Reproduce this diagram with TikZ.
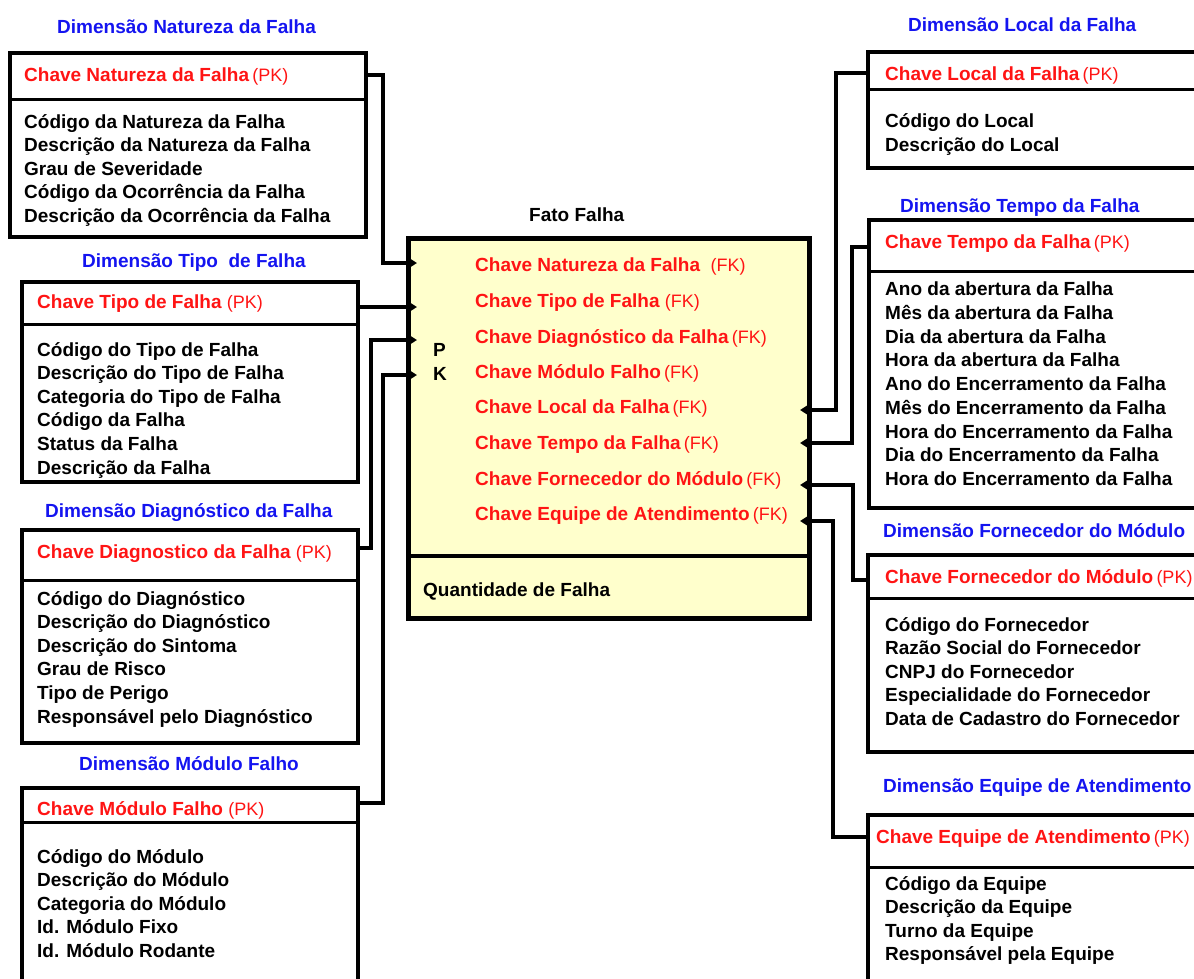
\documentclass[tikz,border=0pt]{standalone}
\usepackage{fontspec}
\setmainfont{Liberation Sans}
\usetikzlibrary{arrows.meta}

\definecolor{keyred}{HTML}{FF1414}
\definecolor{dimblue}{HTML}{1414F0}
\definecolor{factfill}{HTML}{FFFFCC}

% key suffix such as (PK) / (FK), set in the regular weight
\newcommand\keytag[1]{{\mdseries\fontsize{18}{22}\selectfont(#1)}}

% a column of attribute rows: name, x, first baseline, step, items
\newcommand\rowlist[5]{%
  \foreach \rowtext [count=\i] in {#5}
    \node[row] (#1-\i) at (#2, {#3+(\i-1)*#4}) {\rowtext};}

\begin{document}
\begin{tikzpicture}[x=1pt, y=-1pt,
  row/.style={anchor=base west, inner sep=0pt, font=\fontsize{19}{23}\selectfont\bfseries},
  title/.style={row, text=dimblue},
  key/.style={row, text=keyred},
  dim/.style={draw, rectangle, line width=3.3pt, fill=white, inner sep=0pt, outer sep=0pt, anchor=north west},
  fact/.style={dim, line width=5pt, fill=factfill},
  divider/.style={line width=3pt},
  link/.style={line width=3.3pt, line join=miter, -{Triangle[length=10pt,width=12pt]}, shorten >=-9pt}]

\useasboundingbox (0,0) rectangle (1194,978);
\clip (0,0) rectangle (1194,978);

% ---------------- fact table ----------------
\node[fact, minimum width=401pt, minimum height=380pt] (fato) at (408,238) {};
\draw[divider, line width=4pt] (fato.west |- 0,556) -- (fato.east |- 0,556);
\node[row] (fatotitle) at (529,221) {Fato Falha};
\node[row] (pk-p) at (433,356) {P};
\node[row] (pk-k) at (433,380) {K};
\node[key] (fk1) at (475,271) {Chave Natureza da Falha\ \ \keytag{FK}};
\node[key] (fk2) at (475,307) {Chave Tipo de Falha \keytag{FK}};
\node[key] (fk3) at (475,343) {Chave Diagnóstico da Falha\,\keytag{FK}};
\node[key] (fk4) at (475,378) {Chave Módulo Falho\,\keytag{FK}};
\node[key] (fk5) at (475,413) {Chave Local da Falha\,\keytag{FK}};
\node[key] (fk6) at (475,449) {Chave Tempo da Falha\,\keytag{FK}};
\node[key] (fk7) at (475,485) {Chave Fornecedor do Módulo\,\keytag{FK}};
\node[key] (fk8) at (475,520) {Chave Equipe de Atendimento\,\keytag{FK}};
\node[row] (qtd) at (423,596) {Quantidade de Falha};

% ---------------- left dimensions ----------------
% Natureza da Falha
\node[title] (nat-title) at (57,33) {Dimensão Natureza da Falha};
\node[dim, minimum width=356pt, minimum height=184pt] (nat) at (10,53) {};
\draw[divider] (nat.west |- 0,99) -- (nat.east |- 0,99);
\node[key] (nat-key) at (24,81) {Chave Natureza da Falha\,\keytag{PK}};
\rowlist{nat}{24}{128}{23.5}{Código da Natureza da Falha,Descrição da Natureza da Falha,Grau de Severidade,Código da Ocorrência da Falha,Descrição da Ocorrência da Falha}

% Tipo de Falha
\node[title] (tipo-title) at (82,267) {Dimensão Tipo\ \ de Falha};
\node[dim, minimum width=336pt, minimum height=200pt] (tipo) at (22,282) {};
\draw[divider] (tipo.west |- 0,324) -- (tipo.east |- 0,324);
\node[key] (tipo-key) at (37,308) {Chave Tipo de Falha \keytag{PK}};
\rowlist{tipo}{37}{356}{23.6}{Código do Tipo de Falha,Descrição do Tipo de Falha,Categoria do Tipo de Falha,Código da Falha,Status da Falha,Descrição da Falha}

% Diagnóstico da Falha
\node[title] (diag-title) at (45,517) {Dimensão Diagnóstico da Falha};
\node[dim, minimum width=336pt, minimum height=213pt] (diag) at (22,530) {};
\draw[divider] (diag.west |- 0,580) -- (diag.east |- 0,580);
\node[key] (diag-key) at (37,558) {Chave Diagnostico da Falha \keytag{PK}};
\rowlist{diag}{37}{605}{23.6}{Código do Diagnóstico,Descrição do Diagnóstico,Descrição do Sintoma,Grau de Risco,Tipo de Perigo,Responsável pelo Diagnóstico}

% Módulo Falho
\node[title] (mod-title) at (79,770) {Dimensão Módulo Falho};
\node[dim, minimum width=336pt, minimum height=210pt] (mod) at (22,788) {};
\draw[divider] (mod.west |- 0,822) -- (mod.east |- 0,822);
\node[key] (mod-key) at (37,815) {Chave Módulo Falho \keytag{PK}};
\rowlist{mod}{37}{863}{23.5}{Código do Módulo,Descrição do Módulo,Categoria do Módulo,Id. Módulo Fixo,Id. Módulo Rodante}

% ---------------- right dimensions ----------------
% Local da Falha
\node[title] (local-title) at (908,31) {Dimensão Local da Falha};
\node[dim, minimum width=400pt, minimum height=116pt] (local) at (868,52) {};
\draw[divider] (local.west |- 0,89) -- (local.east |- 0,89);
\node[key] (local-key) at (885,80) {Chave Local da Falha\,\keytag{PK}};
\rowlist{local}{885}{127.5}{23.6}{Código do Local,Descrição do Local}

% Tempo da Falha
\node[title] (tempo-title) at (900,212) {Dimensão Tempo da Falha};
\node[dim, minimum width=400pt, minimum height=288pt] (tempo) at (869,220) {};
\draw[divider] (tempo.west |- 0,271) -- (tempo.east |- 0,271);
\node[key] (tempo-key) at (885,248) {Chave Tempo da Falha\,\keytag{PK}};
\rowlist{tempo}{885}{295.5}{23.75}{Ano da abertura da Falha,Mês da abertura da Falha,Dia da abertura da Falha,Hora da abertura da Falha,Ano do Encerramento da Falha,Mês do Encerramento da Falha,Hora do Encerramento da Falha,Dia do Encerramento da Falha,Hora do Encerramento da Falha}

% Fornecedor do Módulo
\node[title] (forn-title) at (883,537) {Dimensão Fornecedor do Módulo};
\node[dim, minimum width=400pt, minimum height=197pt] (forn) at (868,555) {};
\draw[divider] (forn.west |- 0,598) -- (forn.east |- 0,598);
\node[key] (forn-key) at (885,583) {Chave Fornecedor do Módulo\,\keytag{PK}};
\rowlist{forn}{885}{631}{23.5}{Código do Fornecedor,Razão Social do Fornecedor,CNPJ do Fornecedor,Especialidade do Fornecedor,Data de Cadastro do Fornecedor}

% Equipe de Atendimento
\node[title] (equipe-title) at (883,792) {Dimensão Equipe de Atendimento};
\node[dim, minimum width=400pt, minimum height=200pt] (equipe) at (868,815) {};
\draw[divider] (equipe.west |- 0,867) -- (equipe.east |- 0,867);
\node[key] (equipe-key) at (876,843) {Chave Equipe de Atendimento\,\keytag{PK}};
\rowlist{equipe}{885}{890}{23.6}{Código da Equipe,Descrição da Equipe,Turno da Equipe,Responsável pela Equipe}

% ---------------- foreign key links ----------------
\draw[link] (nat.east |- 0,75) -| (383,263) -- (fato.west |- 0,263);
\draw[link] (tipo.east |- 0,307) -- (fato.west |- 0,307);
\draw[link] (diag.east |- 0,548) -| (371,340) -- (fato.west |- 0,340);
\draw[link] (mod.east |- 0,803) -| (383,375) -- (fato.west |- 0,375);
\draw[link] (local.west |- 0,73) -| (836,410) -- (fato.east |- 0,410);
\draw[link] (tempo.west |- 0,247) -| (852,443) -- (fato.east |- 0,443);
\draw[link] (forn.west |- 0,580) -| (853,485) -- (fato.east |- 0,485);
\draw[link] (equipe.west |- 0,837) -| (833,521) -- (fato.east |- 0,521);
\end{tikzpicture}
\end{document}
